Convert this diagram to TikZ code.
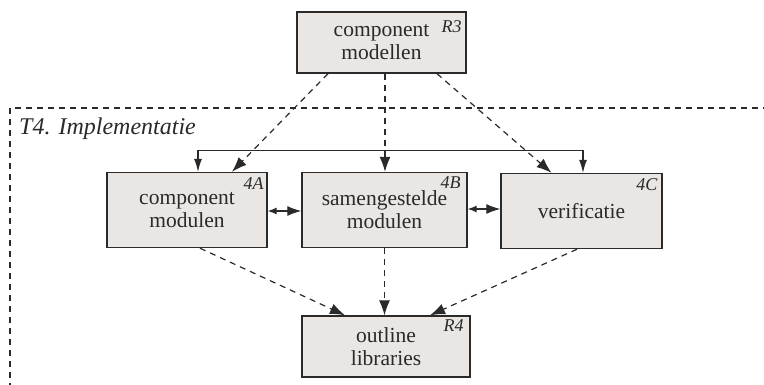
\documentclass[tikz,border=0pt]{standalone}
\usepackage{fontspec}
\setmainfont{Liberation Serif}
\usetikzlibrary{arrows.meta,calc}
\definecolor{boxfill}{HTML}{E9E6E3}
\definecolor{ink}{HTML}{2A2A2A}
\tikzset{
  blok/.style={draw=ink, line width=1.4pt, fill=boxfill, text=ink, align=center,
    inner sep=0pt, font=\fontsize{21.5}{23}\selectfont},
  tag/.style={anchor=base east, inner sep=0pt, text=ink, font=\itshape\fontsize{18}{20}\selectfont},
  dep/.style={draw=ink, line width=1.2pt, dash pattern=on 6pt off 5pt, -{Latex[length=15pt,width=11pt]}},
  fb/.style={draw=ink, line width=1.2pt, {Latex[length=13pt,width=8pt]}-{Latex[length=13pt,width=8pt]}},
  dbl/.style={draw=ink, line width=1.2pt, {Latex[length=9pt,width=7pt]}-{Latex[length=14pt,width=10pt]}},
}
\begin{document}
\begin{tikzpicture}[x=1pt,y=-1pt]
\useasboundingbox (0,0) rectangle (764,385);
\fill[white] (0,0) rectangle (764,385);
% frame
\draw[ink, line width=1.1pt, dash pattern=on 6pt off 5pt] (10,400) -- (10,108) -- (770,108);
\node[anchor=base west, inner sep=0pt, text=ink, font=\itshape\fontsize{24}{26}\selectfont] (t4) at (19,135) {T4. Implementatie};
% boxes
\node[blok, minimum width=169pt, minimum height=61pt] (r3) at (381.5,42.5) {component\\modellen};
\node[blok, minimum width=160pt, minimum height=75pt] (a) at (187,210) {component\\modulen};
\node[blok, minimum width=165pt, minimum height=75pt] (b) at (384.5,210) {samengestelde\\modulen};
\node[blok, minimum width=161pt, minimum height=75pt] (c) at (581.5,211) {verificatie};
\node[blok, minimum width=168pt, minimum height=61pt] (r4) at (386,346.5) {outline\\libraries};
% tags
\node[tag] (tr3) at ([xshift=-5pt,yshift=-21pt]r3.north east) {R3};
\node[tag] (ta) at ([xshift=-4pt,yshift=-18pt]a.north east) {4A};
\node[tag] (tb) at ([xshift=-7pt,yshift=-17pt]b.north east) {4B};
\node[tag] (tc) at ([xshift=-5pt,yshift=-18pt]c.north east) {4C};
\node[tag] (tr4) at ([xshift=-7pt,yshift=-16pt]r4.north east) {R4};
% from R3
\draw[dep] ([xshift=-53.5pt]r3.south) -- ([xshift=45pt]a.north);
\draw[dep] ([xshift=3.5pt]r3.south) -- ([xshift=3.5pt]r3.south |- b.north);
\draw[dep] ([xshift=55.5pt]r3.south) -- ([xshift=-30pt]c.north);
% feedback line
\draw[fb] ([xshift=11pt]a.north) -- ++(0,-21) -| ([xshift=1.5pt]c.north);
% double arrows
\draw[dbl] ([yshift=-1pt]a.east) -- ([yshift=-1pt]a.east -| b.west);
\draw[dbl] ([yshift=1pt]b.east) -- ([yshift=1pt]b.east -| c.west);
% to R4
\draw[dep] ([xshift=13pt]a.south) -- ([xshift=-41pt]r4.north);
\draw[dep] (b.south) -- (b.south |- r4.north);
\draw[dep] ([xshift=-4.5pt]c.south) -- ([xshift=44pt]r4.north);
\end{tikzpicture}
\end{document}
